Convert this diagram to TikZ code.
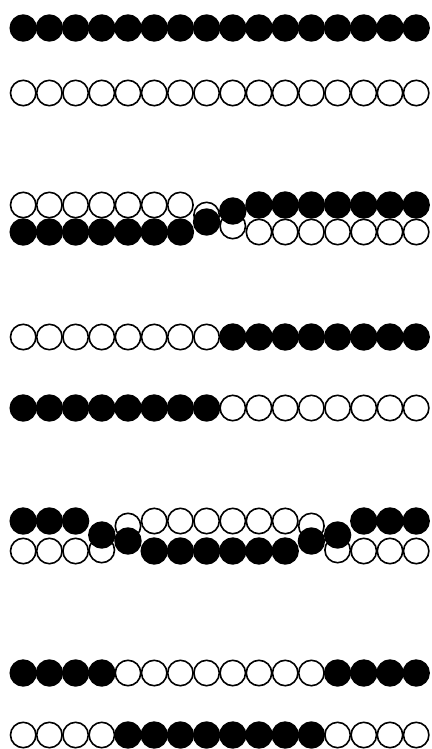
\documentclass[tikz,border=0pt]{standalone}
\usepackage{tikz}
\tikzset{
  light/.style={circle, draw=black, line width=1.6pt, fill=white, minimum size=25.4pt, inner sep=0pt},
  dark/.style={circle, draw=black, line width=1.6pt, fill=black, minimum size=25.8pt, inner sep=0pt}
}
\begin{document}
\begin{tikzpicture}[x=1pt, y=-1pt]
  \useasboundingbox (0,0) rectangle (431,749);

  \foreach \i in {0,...,15} {
    \node[dark] (a\i) at ({23.2+26.2*\i},28) {};
    \node[light] (b\i) at ({23.2+26.2*\i},93) {};
  }

  \foreach \i in {0,...,6} \node[light] (c\i) at ({23.2+26.2*\i},205) {};
  \foreach \i in {9,...,15} \node[light] (d\i) at ({23.2+26.2*\i},232) {};
  \node[light] (c7) at ({23.2+26.2*7},215) {};
  \node[light] (d8) at ({23.2+26.2*8},226) {};
  \foreach \i in {0,...,6} \node[dark] (d\i) at ({23.2+26.2*\i},232) {};
  \foreach \i in {9,...,15} \node[dark] (c\i) at ({23.2+26.2*\i},205) {};
  \node[dark] (d7) at ({23.2+26.2*7},222) {};
  \node[dark] (c8) at ({23.2+26.2*8},211) {};

  \foreach \i in {0,...,7} {
    \node[light] (e\i) at ({23.2+26.2*\i},337) {};
    \node[dark] (f\i) at ({23.2+26.2*\i},408) {};
  }
  \foreach \i in {8,...,15} {
    \node[dark] (e\i) at ({23.2+26.2*\i},337) {};
    \node[light] (f\i) at ({23.2+26.2*\i},408) {};
  }

  \foreach \i in {0,1,2,13,14,15} \node[light] (h\i) at ({23.2+26.2*\i},551) {};
  \foreach \i in {3,12} \node[light] (h\i) at ({23.2+26.2*\i},550) {};
  \foreach \i in {5,...,10} \node[light] (g\i) at ({23.2+26.2*\i},521) {};
  \foreach \i in {4,11} \node[light] (g\i) at ({23.2+26.2*\i},526) {};
  \foreach \i in {0,1,2,13,14,15} \node[dark] (g\i) at ({23.2+26.2*\i},521) {};
  \foreach \i in {3,12} \node[dark] (g\i) at ({23.2+26.2*\i},535) {};
  \foreach \i in {5,...,10} \node[dark] (h\i) at ({23.2+26.2*\i},551) {};
  \foreach \i in {4,11} \node[dark] (h\i) at ({23.2+26.2*\i},541) {};

  \foreach \i in {0,1,2,3,12,13,14,15} {
    \node[dark] (k\i) at ({23.2+26.2*\i},673) {};
    \node[light] (m\i) at ({23.2+26.2*\i},735) {};
  }
  \foreach \i in {4,...,11} {
    \node[light] (k\i) at ({23.2+26.2*\i},673) {};
    \node[dark] (m\i) at ({23.2+26.2*\i},735) {};
  }
\end{tikzpicture}
\end{document}
